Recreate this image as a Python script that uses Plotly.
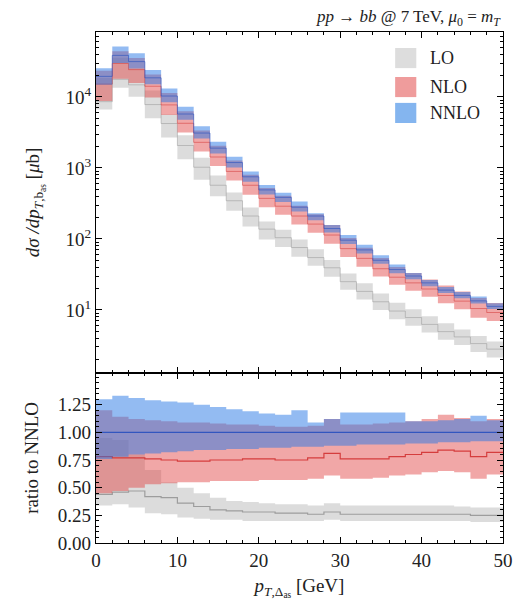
import numpy as np
import plotly.graph_objects as go
from plotly.subplots import make_subplots

# ---------------- data ----------------
bin_edges = list(range(0, 52, 2))  # 25 bins, width 2 GeV

# NNLO central prediction [mub/GeV]
nnlo_central = [19500, 38500, 31500, 18600, 10300, 5750, 3100, 1900, 1190, 750,
                490, 385, 280, 210, 140, 96, 70, 50, 37, 30,
                24, 19, 16, 13.4, 11.2]

# ratios to NNLO central: (low, central, high)
nnlo_lo = [0.76, 0.78, 0.80, 0.81, 0.82, 0.83, 0.84, 0.84, 0.85, 0.85, 0.86, 0.86, 0.87,
           0.87, 0.88, 0.88, 0.89, 0.89, 0.89, 0.90, 0.90, 0.91, 0.91, 0.92, 0.92]
nnlo_mid = [1.0] * 25
nnlo_hi = [1.30, 1.33, 1.31, 1.29, 1.28, 1.27, 1.25, 1.23, 1.21, 1.19, 1.17, 1.16, 1.20,
           1.09, 1.12, 1.18, 1.18, 1.18, 1.18, 1.10, 1.10, 1.11, 1.12, 1.15, 1.11]

nlo_lo = [0.45, 0.47, 0.50, 0.53, 0.54, 0.55, 0.55, 0.56, 0.56, 0.56, 0.57, 0.57, 0.57,
          0.58, 0.61, 0.58, 0.58, 0.59, 0.61, 0.62, 0.64, 0.65, 0.64, 0.58, 0.62]
nlo_mid = [0.78, 0.77, 0.77, 0.76, 0.75, 0.74, 0.74, 0.75, 0.75, 0.76, 0.76, 0.75, 0.75,
           0.77, 0.81, 0.76, 0.76, 0.76, 0.78, 0.80, 0.82, 0.84, 0.83, 0.78, 0.82]
nlo_hi = [1.20, 1.14, 1.12, 1.11, 1.10, 1.09, 1.09, 1.08, 1.07, 1.07, 1.06, 1.05, 1.05,
          1.06, 1.12, 1.07, 1.07, 1.08, 1.09, 1.10, 1.12, 1.16, 1.13, 1.10, 1.12]

lo_lo = [0.34, 0.35, 0.32, 0.27, 0.26, 0.23, 0.22, 0.21, 0.21, 0.20, 0.20, 0.20, 0.20,
         0.20, 0.21, 0.20, 0.20, 0.20, 0.20, 0.20, 0.20, 0.20, 0.20, 0.19, 0.19]
lo_mid = [0.44, 0.46, 0.47, 0.42, 0.41, 0.36, 0.33, 0.30, 0.29, 0.28, 0.28, 0.27, 0.27,
          0.26, 0.28, 0.26, 0.26, 0.26, 0.26, 0.26, 0.26, 0.26, 0.26, 0.25, 0.25]
lo_hi = [0.95, 0.93, 0.80, 0.66, 0.55, 0.50, 0.45, 0.41, 0.38, 0.37, 0.36, 0.35, 0.35,
         0.34, 0.36, 0.34, 0.34, 0.34, 0.34, 0.34, 0.34, 0.34, 0.33, 0.32, 0.32]

series_names = ["LO", "NLO", "NNLO"]
y_tick_vals = [10, 100, 1000, 10000]
y_tick_text = ["10<sup>1</sup>", "10<sup>2</sup>", "10<sup>3</sup>", "10<sup>4</sup>"]
ratio_ticks = [0.0, 0.25, 0.5, 0.75, 1.0, 1.25]
x_ticks = [0, 10, 20, 30, 40, 50]

# ---------------- styling ----------------
FONT = "Liberation Serif"
fills = {"LO": "rgba(185,185,185,0.5)", "NLO": "rgba(225,60,60,0.45)", "NNLO": "rgba(40,120,230,0.5)"}
lines = {"LO": "rgba(150,150,150,0.9)", "NLO": "rgba(210,50,50,0.9)", "NNLO": "rgba(40,80,190,0.9)"}
top_lines = {"LO": "rgba(150,150,150,0.5)", "NLO": "rgba(210,50,50,0.5)", "NNLO": "rgba(40,80,190,0.6)"}
legend_cols = {"LO": "#dddddd", "NLO": "#ef9c9c", "NNLO": "#84b5ef"}

edges = np.array(bin_edges, dtype=float)


def step_xy(vals):
    xs, ys = [], []
    for i, v in enumerate(vals):
        xs += [edges[i], edges[i + 1]]
        ys += [v, v]
    return xs, ys


def band_poly(lo, hi):
    xl, yl = step_xy(lo)
    xh, yh = step_xy(hi)
    return xh + xl[::-1], yh + yl[::-1]


fig = make_subplots(rows=2, cols=1, shared_xaxes=True, vertical_spacing=0,
                    row_heights=[0.667, 0.333])

data = {
    "LO": (lo_lo, lo_mid, lo_hi),
    "NLO": (nlo_lo, nlo_mid, nlo_hi),
    "NNLO": (nnlo_lo, nnlo_mid, nnlo_hi),
}
cen = np.array(nnlo_central, dtype=float)

for name in series_names:
    rlo, rmid, rhi = (np.array(a, dtype=float) for a in data[name])
    # top panel: absolute
    px, py = band_poly(list(cen * rlo), list(cen * rhi))
    fig.add_trace(go.Scatter(x=px, y=py, fill="toself", fillcolor=fills[name],
                             line=dict(width=0), mode="lines", showlegend=False,
                             hoverinfo="skip"), row=1, col=1)
    mx, my = step_xy(list(cen * rmid))
    fig.add_trace(go.Scatter(x=mx, y=my, mode="lines", line=dict(color=top_lines[name], width=1),
                             showlegend=False, hoverinfo="skip"), row=1, col=1)
    # ratio panel
    px, py = band_poly(list(rlo), list(rhi))
    fig.add_trace(go.Scatter(x=px, y=py, fill="toself", fillcolor=fills[name],
                             line=dict(width=0), mode="lines", showlegend=False,
                             hoverinfo="skip"), row=2, col=1)
    mx, my = step_xy(list(rmid))
    fig.add_trace(go.Scatter(x=mx, y=my, mode="lines", line=dict(color=lines[name], width=1.2),
                             showlegend=False, hoverinfo="skip"), row=2, col=1)

axis_common = dict(showline=True, linecolor="black", linewidth=1.2, mirror="allticks",
                   ticks="inside", ticklen=6, tickcolor="black", showgrid=False, zeroline=False,
                   tickfont=dict(family=FONT, size=19, color="#222"))

minor_log = [m * 10 ** d for d in range(0, 5) for m in range(2, 10)]

fig.update_xaxes(range=[0, 50], tickvals=x_ticks, **axis_common,
                 minor=dict(ticks="inside", ticklen=3, dtick=2, tick0=0, tickcolor="black"))
fig.update_xaxes(showticklabels=False, row=1, col=1)
fig.update_xaxes(title=dict(text="<i>p</i><sub><i>T</i>,Δ<sub>as</sub></sub> [GeV]",
                            font=dict(family=FONT, size=19, color="#222"), standoff=8),
                 row=2, col=1)

fig.update_yaxes(type="log", range=[0.113, 4.915], tickvals=y_tick_vals, ticktext=y_tick_text,
                 **axis_common,
                 minor=dict(ticks="inside", ticklen=3, tickvals=minor_log, tickcolor="black"),
                 title=dict(text="<i>dσ /dp</i><sub><i>T</i>,b<sub>as</sub></sub> [<i>μ</i>b]",
                            font=dict(family=FONT, size=19, color="#222"), standoff=20),
                 row=1, col=1)
fig.update_yaxes(range=[0, 1.538], tickvals=ratio_ticks,
                 ticktext=["%.2f" % t for t in ratio_ticks], **axis_common,
                 minor=dict(ticks="inside", ticklen=3, dtick=0.05, tick0=0, tickcolor="black"),
                 title=dict(text="ratio to NNLO", font=dict(family=FONT, size=19, color="#222"),
                            standoff=14),
                 row=2, col=1)

# legend drawn as patches + labels
leg_y = [(0.953, 0.894), (0.868, 0.809), (0.792, 0.733)]
shapes = []
annotations = []
for name, (y1, y0) in zip(series_names, leg_y):
    shapes.append(dict(type="rect", xref="x domain", yref="y domain", x0=0.735, x1=0.787,
                       y0=y0, y1=y1, fillcolor=legend_cols[name], line=dict(width=0)))
    annotations.append(dict(xref="x domain", yref="y domain", x=0.815, y=(y0 + y1) / 2,
                            xanchor="left", yanchor="middle", showarrow=False, text=name,
                            font=dict(family=FONT, size=18, color="#222")))

annotations.append(dict(xref="paper", yref="paper", x=1.0, y=1.0, xanchor="right",
                        yanchor="bottom", yshift=1, showarrow=False,
                        text="<i>pp</i> → <i>bb</i> @ 7 TeV, <i>μ</i><sub>0</sub> = <i>m<sub>T</sub></i>",
                        font=dict(family=FONT, size=17, color="#222")))

fig.update_layout(width=525, height=607, margin=dict(l=96, r=14, t=32, b=64),
                  plot_bgcolor="white", paper_bgcolor="white", showlegend=False,
                  shapes=shapes, annotations=annotations)

fig.write_html("out.html")
